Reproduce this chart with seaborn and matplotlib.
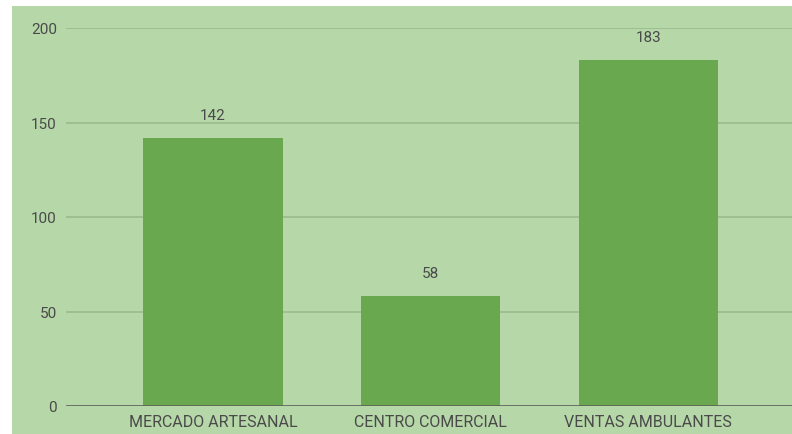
import matplotlib
matplotlib.use("Agg")
import matplotlib.pyplot as plt
import seaborn as sns
import pandas as pd
from matplotlib.patches import Rectangle

categories = ["MERCADO ARTESANAL", "CENTRO COMERCIAL", "VENTAS AMBULANTES"]
values = [142, 58, 183]
y_ticks = [0, 50, 100, 150, 200]

BG = "#b6d7a8"
BAR = "#6aa84f"
GRID = "#9cbd8f"
TEXT = "#4a4a4a"

sns.set_theme(style="white")
plt.rcParams["font.family"] = ["Roboto", "DejaVu Sans"]

fig = plt.figure(figsize=(7.92, 4.35), dpi=100, facecolor="white")
# green panel behind the chart
fig.add_artist(Rectangle((12 / 792, 0), 1 - 12 / 792, 1 - 7 / 435,
                         transform=fig.transFigure, facecolor=BG,
                         edgecolor="none", zorder=-10))

ax = fig.add_axes([66 / 792, 28 / 435, 1 - 66 / 792, 378 / 435])
ax.set_facecolor("none")
ax.set_zorder(1)

df = pd.DataFrame({"categoria": categories, "valor": values})
sns.barplot(data=df, x="categoria", y="valor", color=BAR, saturation=1,
            width=0.64, linewidth=0, edgecolor=BAR, ax=ax, zorder=3)

ax.set_xlim(-0.675, 2.66)
ax.set_ylim(0, 200)
ax.set_yticks(y_ticks)
ax.set_yticklabels([str(t) for t in y_ticks])
ax.grid(axis="y", color=GRID, linewidth=1.3, zorder=1)
ax.grid(axis="x", visible=False)
ax.axhline(0, color="#5a5a5a", linewidth=1.8, zorder=4)

for s in ax.spines.values():
    s.set_visible(False)

ax.set_xlabel("")
ax.set_ylabel("")
ax.tick_params(axis="y", length=0, pad=6.5, labelsize=11, labelcolor=TEXT)
ax.tick_params(axis="x", length=0, pad=5.5, labelsize=11.5, labelcolor=TEXT)

for i, v in enumerate(values):
    ax.annotate(str(v), xy=(i, v), xytext=(0, 16.5), textcoords="offset points",
                ha="center", va="center", fontsize=11, color=TEXT, zorder=5)

fig.savefig("out.png", dpi=100, facecolor="white")
